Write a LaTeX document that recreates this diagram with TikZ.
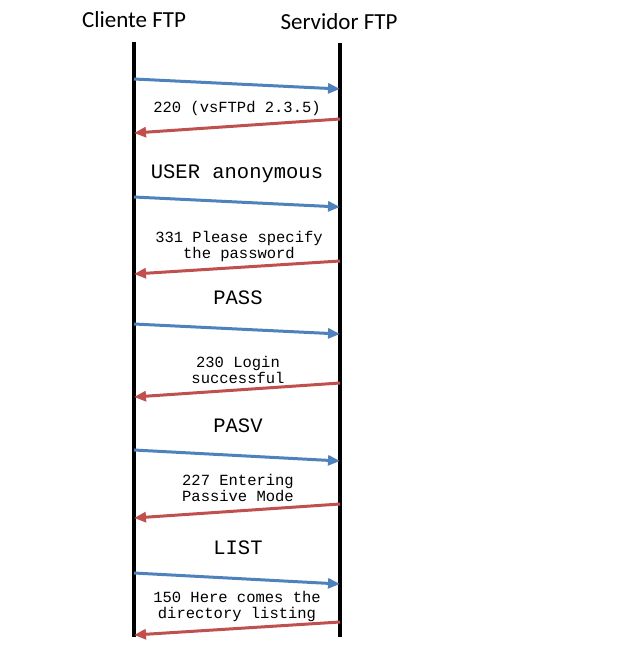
\documentclass[tikz,border=0pt]{standalone}
\usepackage{fontspec}
\newfontfamily\headfont{Carlito}
\newfontfamily\msgfont{Liberation Mono}
\usetikzlibrary{arrows.meta}
\definecolor{reqblue}{RGB}{79,129,189}
\definecolor{repred}{RGB}{192,80,77}

\begin{document}
\begin{tikzpicture}[x=1pt,y=-1pt,
        lifeline/.style={line width=4pt,black},
        request/.style={line width=3pt,reqblue,-{Triangle[length=12pt,width=10pt]}},
        reply/.style={line width=3pt,repred,-{Triangle[length=12pt,width=10pt]}},
        head/.style={font=\headfont\fontsize{23}{26}\selectfont,anchor=base,inner sep=0pt},
        cmd/.style={font=\msgfont\fontsize{20.5}{22}\selectfont,anchor=base,inner sep=0pt},
        resp/.style={font=\msgfont\fontsize{15.5}{16}\selectfont,anchor=base,align=center,inner sep=0pt}]
        \useasboundingbox (0,0) rectangle (641,658);
        % Hosts
        \node[head] (client) at (134,28) {Cliente FTP};
        \node[head] (server) at (339,30) {Servidor FTP};
        \coordinate (ctop) at (134,42);
        \coordinate (cbot) at (134,637);
        \coordinate (stop) at (340,43);
        \coordinate (sbot) at (340,637);
        \draw[lifeline] (ctop) -- (cbot);
        \draw[lifeline] (stop) -- (sbot);
        % Points on the client line
        \coordinate (c1) at (134,79);
        \coordinate (c2) at (134,133);
        \coordinate (c3) at (134,197);
        \coordinate (c4) at (134,274);
        \coordinate (c5) at (134,324);
        \coordinate (c6) at (134,397);
        \coordinate (c7) at (134,450);
        \coordinate (c8) at (134,518);
        \coordinate (c9) at (134,573);
        \coordinate (c10) at (134,635);
        % Points on the server line
        \coordinate (s1) at (340,89);
        \coordinate (s2) at (340,119);
        \coordinate (s3) at (340,207);
        \coordinate (s4) at (340,261);
        \coordinate (s5) at (340,334);
        \coordinate (s6) at (340,383);
        \coordinate (s7) at (340,461);
        \coordinate (s8) at (340,504);
        \coordinate (s9) at (340,584);
        \coordinate (s10) at (340,622);
        % Messages (two-line labels sit on their last line)
        \draw[request] (c1) -- (s1);
        \node[resp] (m2) at (237,113) {220 (vsFTPd 2.3.5)};
        \draw[reply] (s2) -- (c2);
        \node[cmd] (m3) at (237,178) {USER anonymous};
        \draw[request] (c3) -- (s3);
        \node[resp] (m4) at (239,258) {331 Please specify\\the password};
        \draw[reply] (s4) -- (c4);
        \node[cmd] (m5) at (238,304) {PASS};
        \draw[request] (c5) -- (s5);
        \node[resp] (m6) at (238,383) {230 Login\\successful};
        \draw[reply] (s6) -- (c6);
        \node[cmd] (m7) at (238,432) {PASV};
        \draw[request] (c7) -- (s7);
        \node[resp] (m8) at (238,501) {227 Entering\\Passive Mode};
        \draw[reply] (s8) -- (c8);
        \node[cmd] (m9) at (238,554) {LIST};
        \draw[request] (c9) -- (s9);
        \node[resp] (m10) at (237,618) {150 Here comes the\\directory listing};
        \draw[reply] (s10) -- (c10);
    \end{tikzpicture}
\end{document}
